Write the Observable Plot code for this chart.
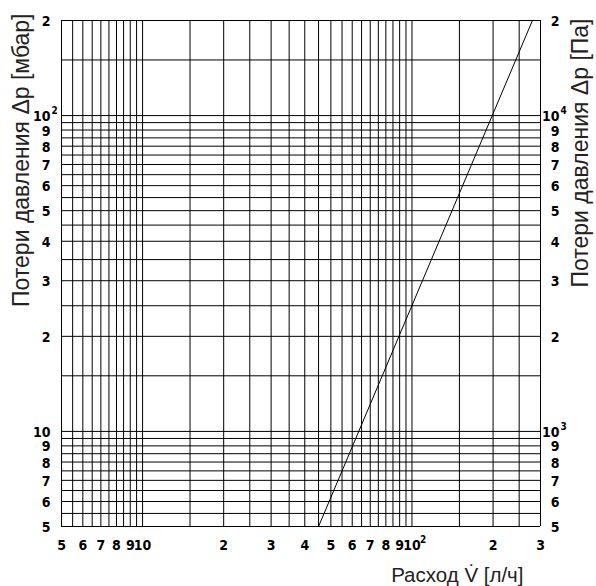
<!DOCTYPE html>
<html>
<head>
<meta charset="utf-8">
<script src="https://cdn.jsdelivr.net/npm/d3@7"></script>
<script src="https://cdn.jsdelivr.net/npm/@observablehq/plot@0.6"></script>
<style>
  html, body { margin: 0; padding: 0; background: #fff; }
</style>
</head>
<body>
<div id="chart"></div>
<script>
// Flow rate V [l/h] and pressure loss Δp [mbar] for the characteristic line
const flowLh = [45, 280];
const dpMbar = [5, 200];

// Vertical grid lines (flow, l/h)
const xGrid = [5, 5.5, 6, 6.5, 7, 7.5, 8, 8.5, 9, 9.5,
  10, 15, 20, 25, 30, 35, 40, 45, 50, 55, 60, 65, 70, 75, 80, 85, 90, 95,
  100, 150, 200, 250, 300];
// Horizontal grid lines (mbar)
const yGrid = [5, 5.5, 6, 6.5, 7, 7.5, 8, 8.5, 9, 9.5,
  10, 15, 20, 25, 30, 35, 40, 45, 50, 55, 60, 65, 70, 75, 80, 85, 90, 95,
  100, 150, 200];

// X tick labels
const xTickValues = [5, 6, 7, 8, 9, 10, 20, 30, 40, 50, 60, 70, 80, 90, 100, 200, 300];
const xTickLabels = ["5", "6", "7", "8", "9", "10", "2", "3", "4", "5", "6", "7", "8", "9", "10", "2", "3"];
const xSupValues = [100];
const xSupLabels = ["2"];

// Left Y tick labels (mbar)
const yLeftValues = [5, 6, 7, 8, 9, 10, 20, 30, 40, 50, 60, 70, 80, 90, 100, 200];
const yLeftLabels = ["5", "6", "7", "8", "9", "10", "2", "3", "4", "5", "6", "7", "8", "9", "10", "2"];
const yLeftSupValues = [100];
const yLeftSupLabels = ["2"];

// Right Y tick labels (Pa)
const yRightValuesPa = [500, 600, 700, 800, 900, 1000, 2000, 3000, 4000, 5000, 6000, 7000, 8000, 9000, 10000, 20000];
const yRightLabels = ["5", "6", "7", "8", "9", "10", "2", "3", "4", "5", "6", "7", "8", "9", "10", "2"];
const yRightSupValuesPa = [1000, 10000];
const yRightSupLabels = ["3", "4"];

const PA_PER_MBAR = 100;

const leftTitle = "Потери давления Δp [мбар]";
const rightTitle = "Потери давления Δp [Па]";
const xTitle = "Расход V\u0307 [л/ч]";

const tickFont = "'Liberation Sans Narrow', 'DejaVu Sans Condensed', 'Roboto Condensed', sans-serif";
const titleFont = "'Liberation Sans', Arial, sans-serif";

const idx = (arr) => arr.map((_, i) => i);

const chart = Plot.plot({
  width: 596,
  height: 586,
  marginLeft: 61,
  marginRight: 56,
  marginTop: 20,
  marginBottom: 60,
  style: {background: "white", color: "black", fontFamily: tickFont, fontSize: "14px"},
  x: {type: "log", domain: [5, 300], axis: null},
  y: {type: "log", domain: [5, 200], axis: null},
  marks: [
    Plot.ruleX(xGrid, {x: d => d, stroke: "black", strokeWidth: 1}),
    Plot.ruleY(yGrid, {y: d => d, stroke: "black", strokeWidth: 1}),
    Plot.line(idx(flowLh), {x: i => flowLh[i], y: i => dpMbar[i], stroke: "black", strokeWidth: 1}),
    // x tick labels
    Plot.text(idx(xTickValues), {x: i => xTickValues[i], text: i => xTickLabels[i],
      frameAnchor: "bottom", dy: 19, lineAnchor: "middle", fontWeight: "bold", fontFamily: tickFont, fontSize: 14, fill: "black"}),
    Plot.text(idx(xSupValues), {x: i => xSupValues[i], text: i => xSupLabels[i],
      frameAnchor: "bottom", dx: 8, dy: 13, textAnchor: "start", lineAnchor: "middle", fontWeight: "bold", fontFamily: tickFont, fontSize: 10, fill: "black"}),
    // left y tick labels
    Plot.text(idx(yLeftValues), {y: i => yLeftValues[i], text: i => yLeftLabels[i],
      frameAnchor: "left", dx: -11, dy: 1, textAnchor: "end", lineAnchor: "middle", fontWeight: "bold", fontFamily: tickFont, fontSize: 14, fill: "black"}),
    Plot.text(idx(yLeftSupValues), {y: i => yLeftSupValues[i], text: i => yLeftSupLabels[i],
      frameAnchor: "left", dx: -10, dy: -5, textAnchor: "start", lineAnchor: "middle", fontWeight: "bold", fontFamily: tickFont, fontSize: 10, fill: "black"}),
    // right y tick labels (Pa converted to mbar position)
    Plot.text(idx(yRightValuesPa), {y: i => yRightValuesPa[i] / PA_PER_MBAR, text: i => yRightLabels[i],
      frameAnchor: "right", dx: 19, dy: 1, textAnchor: "end", lineAnchor: "middle", fontWeight: "bold", fontFamily: tickFont, fontSize: 14, fill: "black"}),
    Plot.text(idx(yRightSupValuesPa), {y: i => yRightSupValuesPa[i] / PA_PER_MBAR, text: i => yRightSupLabels[i],
      frameAnchor: "right", dx: 20, dy: -5, textAnchor: "start", lineAnchor: "middle", fontWeight: "bold", fontFamily: tickFont, fontSize: 10, fill: "black"}),
    // axis titles
    Plot.text([leftTitle], {frameAnchor: "top-left", dx: -32.5, dy: -7, rotate: -90, textAnchor: "end", lineAnchor: "bottom",
      fontFamily: titleFont, fontSize: 23, fill: "#222"}),
    Plot.text([rightTitle], {frameAnchor: "top-right", dx: 47.5, dy: -2, rotate: -90, textAnchor: "end", lineAnchor: "bottom",
      fontFamily: titleFont, fontSize: 23, fill: "#222"}),
    Plot.text([xTitle], {frameAnchor: "bottom-right", dx: -17, dy: 55, textAnchor: "end", lineAnchor: "bottom",
      fontFamily: titleFont, fontSize: 20.5, fill: "#222"})
  ]
});

document.getElementById("chart").appendChild(chart);
</script>
</body>
</html>
